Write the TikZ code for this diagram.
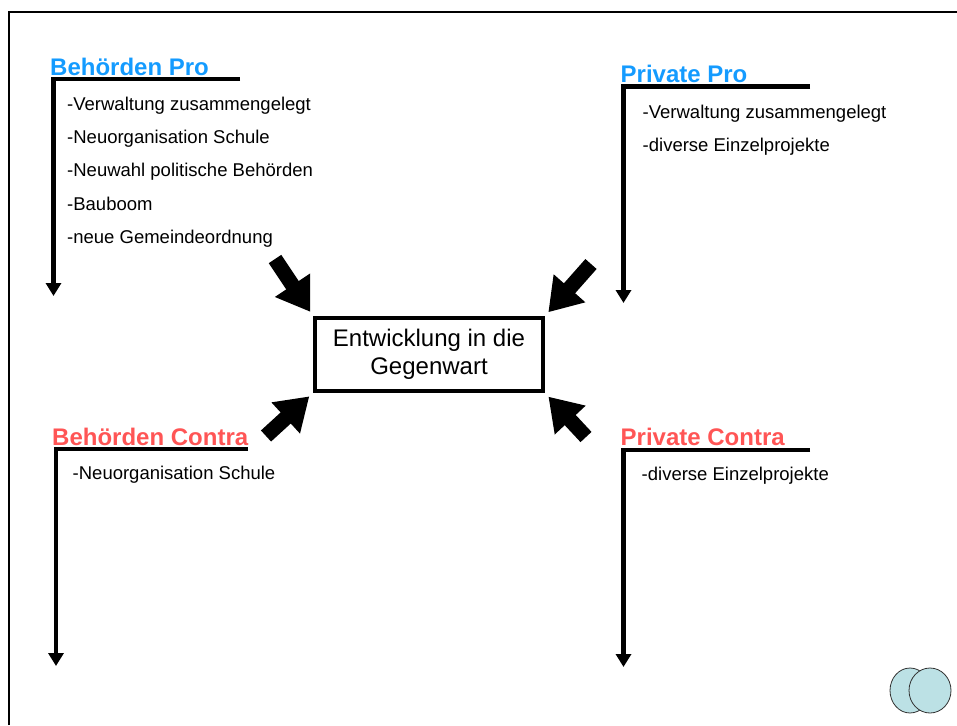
\documentclass[tikz,border=0pt]{standalone}
\usepackage{fontspec}
\setmainfont{Liberation Sans}
\usetikzlibrary{arrows.meta}
\definecolor{problau}{RGB}{20,155,255}
\definecolor{contrarot}{RGB}{255,85,85}
\definecolor{logocyan}{RGB}{188,225,229}
\tikzset{
	titel/.style={anchor=base west,inner sep=0pt,font=\fontsize{24}{28}\selectfont\bfseries},
	punkt/.style={anchor=base west,inner sep=0pt,font=\fontsize{18.5}{22}\selectfont},
	klammer/.style={line width=4.5pt,-{Triangle[width=15pt,length=13pt]}},
	pfeil/.style={line width=15pt,shorten >=5pt,-{Triangle[width=40pt,length=32pt]}},
	kasten/.style={draw,line width=4pt,minimum width=228pt,minimum height=73pt,align=center,font=\fontsize{24}{28}\selectfont},
}
\begin{document}
\begin{tikzpicture}[x=1pt,y=-1pt]
				\useasboundingbox (0,0) rectangle (957,725);
				\draw[line width=2pt] (9,725) -- (9,12) -- (957,12);
				% Behoerden Pro
				\node[titel,text=problau](bpTitel) at (50,75){Behörden Pro};
				\coordinate(bpE) at (240,79);
				\coordinate(bpC) at (53.5,79);
				\coordinate(bpS) at (53.5,296);
				\draw[klammer](bpE) -- (bpC) -- (bpS);
				\node[punkt](bp1) at (67,110){-Verwaltung zusammengelegt};
				\node[punkt](bp2) at (67,143.3){-Neuorganisation Schule};
				\node[punkt](bp3) at (67,176.6){-Neuwahl politische Behörden};
				\node[punkt](bp4) at (67,210){-Bauboom};
				\node[punkt](bp5) at (67,243.3){-neue Gemeindeordnung};
				% Private Pro
				\node[titel,text=problau](ppTitel) at (620.5,82.3){Private Pro};
				\coordinate(ppE) at (810,86.7);
				\coordinate(ppC) at (623.5,86.7);
				\coordinate(ppS) at (623.5,303);
				\draw[klammer](ppE) -- (ppC) -- (ppS);
				\node[punkt](pp1) at (642.5,118.3){-Verwaltung zusammengelegt};
				\node[punkt](pp2) at (642.5,151.7){-diverse Einzelprojekte};
				% Behoerden Contra
				\node[titel,text=contrarot](bcTitel) at (52,445){Behörden Contra};
				\coordinate(bcE) at (248,449);
				\coordinate(bcC) at (56,449);
				\coordinate(bcS) at (56,666);
				\draw[klammer](bcE) -- (bcC) -- (bcS);
				\node[punkt](bc1) at (72.5,479){-Neuorganisation Schule};
				% Private Contra
				\node[titel,text=contrarot](pcTitel) at (620.5,445){Private Contra};
				\coordinate(pcE) at (810,450);
				\coordinate(pcC) at (623.5,450);
				\coordinate(pcS) at (623.5,667);
				\draw[klammer](pcE) -- (pcC) -- (pcS);
				\node[punkt](pc1) at (641.5,480.7){-diverse Einzelprojekte};
				% Mitte
				\node[kasten](mitte) at (429,354.5){Entwicklung in die\\Gegenwart};
				\coordinate(tl) at (275,259);
				\coordinate(tr) at (591,264);
				\coordinate(bl) at (266,436);
				\coordinate(br) at (586,437);
				\draw[pfeil](tl) -- (mitte.north west);
				\draw[pfeil](tr) -- (mitte.north east);
				\draw[pfeil](bl) -- (mitte.south west);
				\draw[pfeil](br) -- (mitte.south east);
				% Logo
				\draw[fill=logocyan,draw=black!80,line width=0.8pt] (910,690.5) ellipse [x radius=20pt,y radius=22.5pt];
				\draw[fill=logocyan,draw=black!80,line width=0.8pt] (930,690.5) ellipse [x radius=21pt,y radius=22.5pt];
\end{tikzpicture}
\end{document}
